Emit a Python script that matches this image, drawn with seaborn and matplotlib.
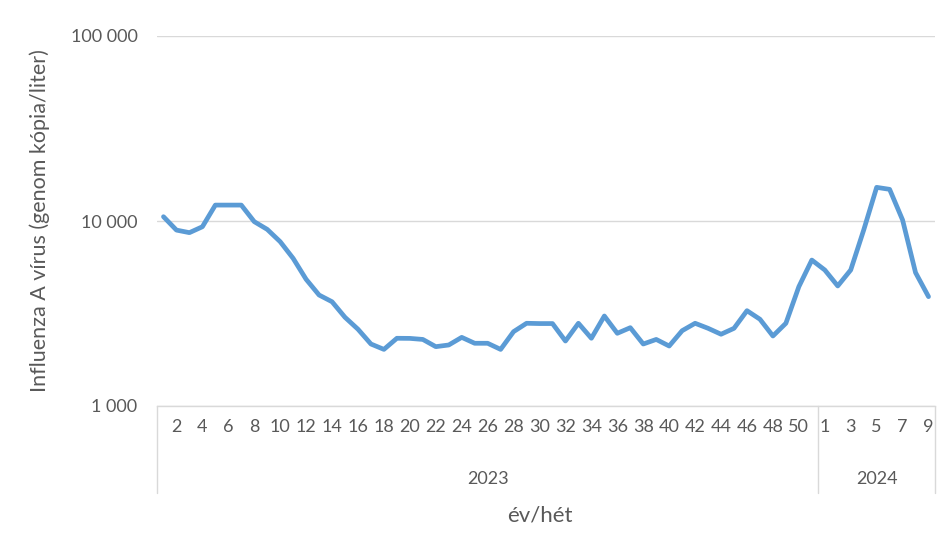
import matplotlib
matplotlib.use("Agg")
import matplotlib.pyplot as plt
import matplotlib.transforms as mtransforms
from matplotlib.ticker import FixedLocator, FuncFormatter, NullLocator
import seaborn as sns
import pandas as pd

# heti adatok: 2023 (1-51. hét) és 2024 (1-9. hét)
weeks_2023 = list(range(1, 52))
weeks_2024 = list(range(1, 10))
values_2023 = [10550, 8930, 8650, 9310, 12190, 12190, 12190, 9920, 9010, 7730,
               6280, 4840, 3980, 3660, 3015, 2600, 2163, 2023, 2323, 2320,
               2290, 2093, 2137, 2350, 2183, 2183, 2023, 2523, 2800, 2790,
               2790, 2245, 2800, 2323, 3065, 2472, 2650, 2163, 2290, 2110,
               2553, 2800, 2630, 2443, 2630, 3275, 2944, 2390, 2800, 4415,
               6150]
values_2024 = [5435, 4455, 5435, 8930, 15200, 14830, 10130, 5260, 3900]
years = ["2023", "2024"]

df = pd.DataFrame({
    "year": ["2023"] * len(weeks_2023) + ["2024"] * len(weeks_2024),
    "week": weeks_2023 + weeks_2024,
    "value": values_2023 + values_2024,
})
df["pos"] = range(len(df))

sns.set_style("white")
plt.rcParams["font.family"] = ["Lato", "DejaVu Sans"]
text_color = "#595959"
grid_color = "#D9D9D9"
tick_size = 13

fig = plt.figure(figsize=(9.53, 5.47), dpi=100)
ax = fig.add_axes([157 / 953, 1 - 406 / 547, (935 - 157) / 953, (406 - 36) / 547])

sns.lineplot(data=df, x="pos", y="value", ax=ax, color="#5B9BD5", linewidth=3.4)

ax.set_yscale("log")
ax.set_ylim(1000, 100000)
ax.set_xlim(-0.5, len(df) - 0.5)
ax.yaxis.set_major_locator(FixedLocator([1000, 10000, 100000]))
ax.yaxis.set_minor_locator(NullLocator())
ax.yaxis.set_major_formatter(FuncFormatter(lambda v, p: f"{int(v):,}".replace(",", " ")))
ax.grid(axis="y", color=grid_color, linewidth=1)
ax.tick_params(axis="y", length=0, pad=14, labelsize=tick_size, labelcolor=text_color)

for s in ["top", "right", "left"]:
    ax.spines[s].set_visible(False)
ax.spines["bottom"].set_color(grid_color)
ax.spines["bottom"].set_linewidth(1)

# heti címkék (minden második)
lab = df[df["pos"] % 2 == 1]
ax.set_xticks(lab["pos"])
ax.set_xticklabels(lab["week"].astype(str))
ax.tick_params(axis="x", length=0, pad=9, labelsize=tick_size, labelcolor=text_color)

# év szint
trans = mtransforms.blended_transform_factory(ax.transData, ax.transAxes)
bounds = [-0.5]
for y in years:
    sub = df[df["year"] == y]
    bounds.append(sub["pos"].max() + 0.5)
    ax.text((sub["pos"].min() + sub["pos"].max()) / 2, -0.197, y, transform=trans,
            ha="center", va="center", fontsize=tick_size, color=text_color)
for b in bounds:
    ax.plot([b, b], [0, -0.235], transform=trans, color=grid_color, linewidth=1, clip_on=False)

ax.set_xlabel("")
ax.set_ylabel("")
fig.text(540 / 953, 1 - 515 / 547, "év/hét", ha="center", va="center", fontsize=16, color=text_color)
fig.text(40 / 953, 1 - 221 / 547, "Influenza A vírus (genom kópia/liter)", rotation=90,
         ha="center", va="center", fontsize=15.5, color=text_color)

fig.savefig("out.png", dpi=100)
